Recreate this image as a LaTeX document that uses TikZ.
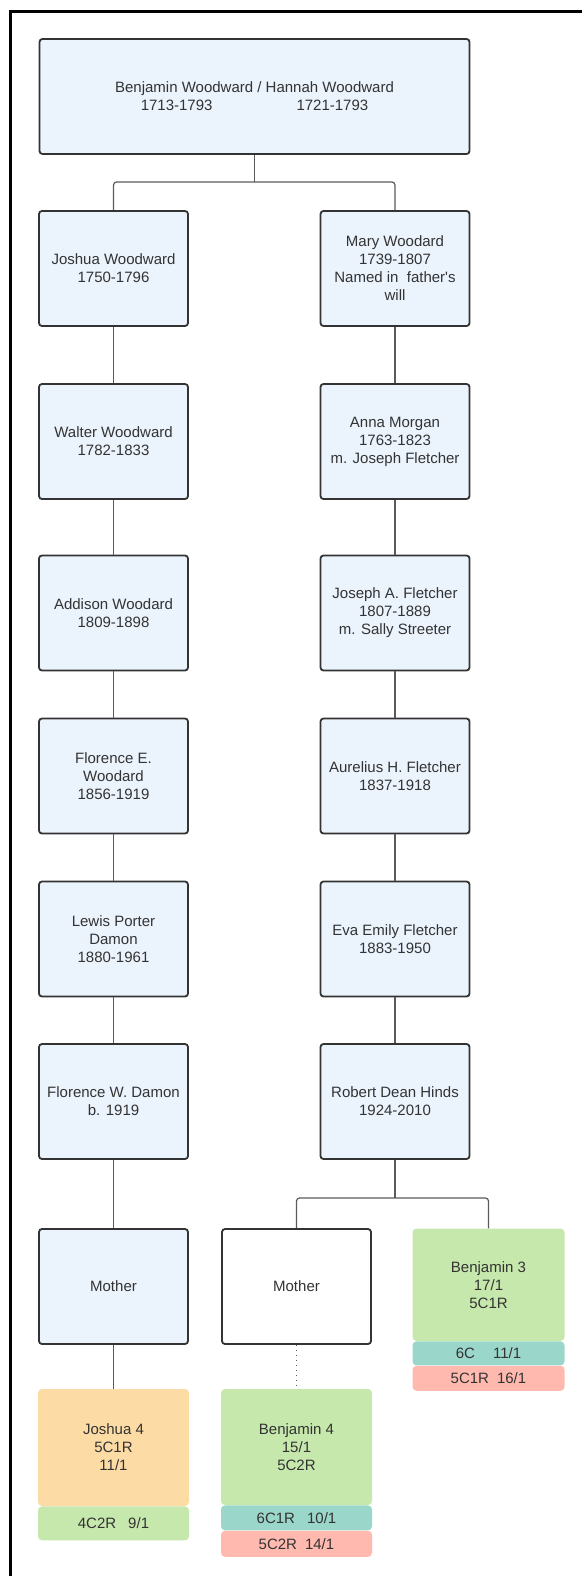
\documentclass[tikz,border=0pt]{standalone}
\usepackage{fontspec}
\newfontfamily\lucid{Liberation Sans}
\usetikzlibrary{positioning}
\definecolor{boxblue}{HTML}{EBF3FD}
\definecolor{txtgray}{HTML}{333333}
\definecolor{linegray}{HTML}{5A5A5A}
\definecolor{dnagreen}{HTML}{C7E8AC}
\definecolor{dnaorange}{HTML}{FDDBA4}
\definecolor{dnateal}{HTML}{9AD6CA}
\definecolor{dnared}{HTML}{FFB9AF}
\tikzset{
  pp/.style={draw=txtgray, line width=1.8pt, fill=boxblue, rounded corners=3pt,
    minimum width=149pt, minimum height=115pt, align=center, text=txtgray,
    inner sep=2pt, font=\lucid\fontsize{15}{18}\selectfont},
  lnk/.style={draw=linegray, line width=1.2pt, rounded corners=3pt},
  dna/.style={rounded corners=4pt, minimum width=152pt, align=center, text=txtgray,
    inner sep=0pt, font=\lucid\fontsize{15}{18}\selectfont}}

\begin{document}
\begin{tikzpicture}[x=1pt,y=-1pt]
\useasboundingbox (0,0) rectangle (582,1576);
\draw[line width=3pt] (10.5,1576) -- (10.5,11.5) -- (582,11.5);

% parents
\node[pp, minimum width=430pt] (top) at (254.5,96.5)
  {Benjamin Woodward / Hannah Woodward\\1713-1793\hspace{84pt}1721-1793};

% Joshua's line
\node[pp] (jw) at (113.5,268.5) {Joshua Woodward\\1750-1796};
\node[pp] (ww) at (113.5,441.5) {Walter Woodward\\1782-1833};
\node[pp] (aw) at (113.5,613) {Addison Woodard\\1809-1898};
\node[pp] (few) at (113.5,776) {Florence E.\\Woodard\\1856-1919};
\node[pp] (lpd) at (113.5,939) {Lewis Porter\\Damon\\1880-1961};
\node[pp] (fwd) at (113.5,1101.5) {Florence W. Damon\\b. 1919};
\node[pp] (mom1) at (113.5,1286.5) {Mother};

% Mary's line
\node[pp] (mw) at (395,268.5) {Mary Woodard\\1739-1807\\Named in\ \ father's\\will};
\node[pp] (am) at (395,441.5) {Anna Morgan\\1763-1823\\m. Joseph Fletcher};
\node[pp] (jaf) at (395,613) {Joseph A. Fletcher\\1807-1889\\m. Sally Streeter};
\node[pp] (ahf) at (395,776) {Aurelius H. Fletcher\\1837-1918};
\node[pp] (eef) at (395,939) {Eva Emily Fletcher\\1883-1950};
\node[pp] (rdh) at (395,1101.5) {Robert Dean Hinds\\1924-2010};
\node[pp, fill=white] (mom2) at (296.5,1286.5) {Mother};

% DNA matches
\node[dna, fill=dnagreen, minimum height=112.5pt] (b3) at (488.5,1284.75) {Benjamin 3\\17/1\\5C1R};
\node[dna, fill=dnateal, minimum height=24pt, below=0pt of b3] (b3a) {6C\hspace{18pt}11/1};
\node[dna, fill=dnared, minimum height=25pt, below=0pt of b3a] (b3b) {5C1R\hspace{8pt}16/1};

\node[dna, fill=dnaorange, minimum width=151pt, minimum height=117pt] (j4) at (113.5,1447.5) {Joshua 4\\5C1R\\11/1};
\node[dna, fill=dnagreen, minimum width=151pt, minimum height=34pt, below=0pt of j4] (j4a) {4C2R\hspace{12pt}9/1};

\node[dna, fill=dnagreen, minimum width=151pt, minimum height=116pt] (b4) at (296.5,1447) {Benjamin 4\\15/1\\5C2R};
\node[dna, fill=dnateal, minimum width=151pt, minimum height=25pt, below=0pt of b4] (b4a) {6C1R\hspace{12pt}10/1};
\node[dna, fill=dnared, minimum width=151pt, minimum height=26pt, below=0pt of b4a] (b4b) {5C2R\hspace{8pt}14/1};

% connectors
\coordinate (sp1) at (254.5,182);
\coordinate (sp2) at (395,1198);
\draw[lnk] (top) -- (sp1);
\draw[lnk] (jw.north) |- (sp1) -| (mw.north);
\foreach \a/\b in {jw/ww, ww/aw, aw/few, few/lpd, lpd/fwd, fwd/mom1, mom1/j4,
  mw/am, am/jaf, jaf/ahf, ahf/eef, eef/rdh}
  \draw[lnk] (\a) -- (\b);
\draw[lnk] (rdh) -- (sp2);
\draw[lnk] (mom2.north) |- (sp2) -| (b3.north);
\draw[lnk, dash pattern=on 1.5pt off 3.5pt] (mom2) -- (b4);
\end{tikzpicture}
\end{document}
